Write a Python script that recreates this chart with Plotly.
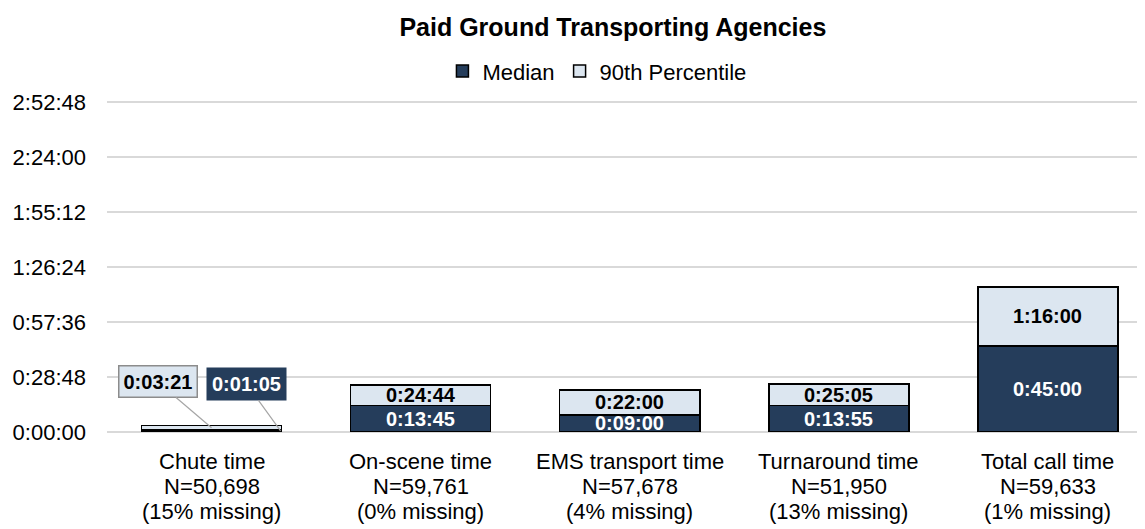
import plotly.graph_objects as go

categories = ["Chute time", "On-scene time", "EMS transport time", "Turnaround time", "Total call time"]
n_counts = ["N=50,698", "N=59,761", "N=57,678", "N=51,950", "N=59,633"]
missing = ["(15% missing)", "(0% missing)", "(4% missing)", "(13% missing)", "(1% missing)"]

# times in seconds
median_sec = [65, 825, 540, 835, 2700]
p90_sec = [201, 1484, 1320, 1505, 4560]

tick_sec = [0, 1728, 3456, 5184, 6912, 8640, 10368]

DARK = "#253d5b"
LIGHT = "#dce6f0"
LABEL_FONT = "Liberation Sans Narrow, Arial Narrow, Liberation Sans, Arial, sans-serif"
BASE_FONT = "Liberation Sans, Arial, sans-serif"


def hms(s):
    return f"{s // 3600}:{s % 3600 // 60:02d}:{s % 60:02d}"


extra_sec = [p - m for p, m in zip(p90_sec, median_sec)]

fig = go.Figure(data=[
    go.Bar(name="Median", x=categories, y=median_sec,
           marker=dict(color=DARK, line=dict(color="black", width=1.5))),
    go.Bar(name="90th Percentile", x=categories, y=extra_sec,
           marker=dict(color=LIGHT, line=dict(color="black", width=1.5))),
])

lab_size = 20
annotations = []
for i, (m, e, p) in enumerate(zip(median_sec, extra_sec, p90_sec)):
    if i == 0:
        # callout labels for the tiny chute-time bar
        annotations.append(dict(
            x=i, y=m + e / 2, text=hms(p), showarrow=True, arrowhead=0,
            arrowcolor="#a6a6a6", arrowwidth=1.2, ax=-54, ay=-46,
            font=dict(family=LABEL_FONT, size=lab_size, color="black", weight="bold"),
            bgcolor=LIGHT, bordercolor="#8c8c8c", borderwidth=1.5, borderpad=4))
        annotations.append(dict(
            x=i + 0.33, y=m / 2, text=hms(m), showarrow=True, arrowhead=0,
            arrowcolor="#a6a6a6", arrowwidth=1.2, ax=-34, ay=-47,
            font=dict(family=LABEL_FONT, size=lab_size, color="white", weight="bold"),
            bgcolor=DARK, borderpad=5))
        continue
    annotations.append(dict(
        x=i, y=m / 2, text=hms(m), showarrow=False,
        font=dict(family=LABEL_FONT, size=lab_size, color="white", weight="bold")))
    annotations.append(dict(
        x=i, y=m + e / 2, text=hms(p), showarrow=False,
        font=dict(family=LABEL_FONT, size=lab_size, color="black", weight="bold")))

# category labels, three lines each, tighter spacing than plotly's tick text
for i, lines in enumerate(zip(categories, n_counts, missing)):
    for k, line in enumerate(lines):
        annotations.append(dict(
            x=i, xref="x", y=0, yref="paper", yanchor="middle", yshift=-29 - 25 * k,
            text=line, showarrow=False, font=dict(size=22, color="black")))

# page body has an 8px margin, so the figure is 8px smaller each way
fig.update_layout(
    width=1137, height=521,
    barmode="stack", bargap=0.33,
    paper_bgcolor="white", plot_bgcolor="white",
    font=dict(family=BASE_FONT, size=22, color="black"),
    title=dict(text="<b>Paid Ground Transporting Agencies</b>", x=0.532, xanchor="center",
               y=0.9635, yanchor="middle", font=dict(size=25, color="black")),
    legend=dict(orientation="h", x=0.472, xanchor="center", y=1.09, yanchor="middle",
                font=dict(size=22), traceorder="normal", itemwidth=30),
    margin=dict(l=99, r=0, t=93, b=97),
    xaxis=dict(range=[-0.5, 4.464], showline=False, ticks="", showticklabels=False),
    yaxis=dict(range=[0, 10400], tickvals=tick_sec, ticktext=[hms(s) for s in tick_sec],
               showgrid=True, gridcolor="#d9d9d9", gridwidth=1.5, zeroline=True,
               zerolinecolor="#d9d9d9", zerolinewidth=1.5, ticks="", ticklabelstandoff=20,
               tickfont=dict(size=22)),
    annotations=annotations,
)

fig.write_html("out.html")
